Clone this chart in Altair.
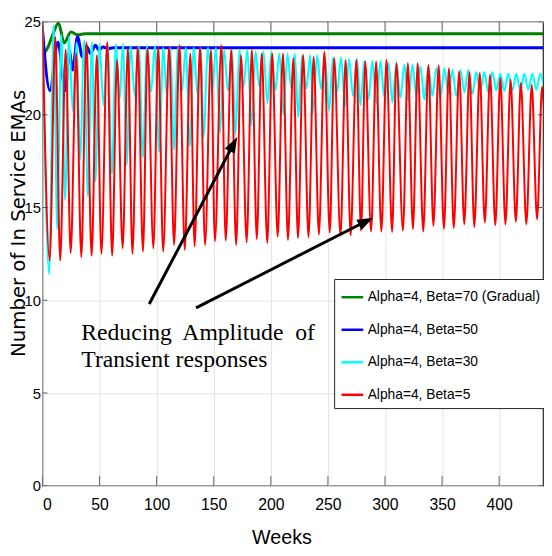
import math
import altair as alt
import pandas as pd

# ---------------- data ----------------
series_names = ["Alpha=4, Beta=70 (Gradual)", "Alpha=4, Beta=50",
                "Alpha=4, Beta=30", "Alpha=4, Beta=5"]
series_colors = ["#008000", "#0000ff", "#00ffff", "#ff0000"]

green_weeks = [0, 4.5, 9, 14, 19, 25, 31, 37, 440]
green_vals = [23.2, 23.6, 24.3, 24.93, 23.87, 24.45, 24.3, 24.36, 24.36]

blue_weeks = [0, 6.5, 13.5, 20, 23.5, 26.4, 30.7, 35, 38.5, 42, 46.4, 49.3, 53, 57, 62, 440]
blue_vals = [24.6, 21.3, 23.9, 21.3, 23.4, 22.4, 24.2, 23.1, 23.7, 23.3, 23.74, 23.48,
             23.65, 23.55, 23.6, 23.6]

cyan_weeks = [0, 5.8, 9.8, 12.9, 16.5, 19.8, 23.2, 26.5, 29.8, 33.0, 36.5, 39.8, 43.2, 46.4,
              49.8, 53.5, 57.0, 60.8, 64.3, 67.5, 70.5, 73.7, 77.2, 80.8, 84.3, 88.0, 91.5,
              95.0, 98.5, 102.3, 105.8, 109.0, 112.0, 115.2, 118.7, 122.0, 125.5, 129.0,
              132.5, 136.0, 138.8, 141.0, 145.0, 148.5, 152.0, 155.5, 159.0, 162.5, 166.0,
              169.0, 172.5, 176.0, 179.5, 183.0, 186.5, 190.0, 193.5, 197.0, 200.5, 204.0,
              207.5, 211.0, 214.5, 218.0, 221.0, 224.0, 227.5, 231.0, 234.5, 237.0, 240.5,
              244.0, 247.5, 251.0, 254.5, 258.0, 261.5, 265.0, 268.5, 272.0, 275.5, 278.5,
              282.0, 285.5, 289.0, 292.5, 296.0, 299.5, 303.0, 306.5, 310.0, 313.5, 317.0,
              320.5, 324.0, 327.5, 331.0, 334.5, 338.0, 341.5, 345.0, 348.5, 352.0, 355.5,
              359.0, 362.5, 366.0, 369.5, 373.0, 376.5, 380.0, 383.5, 387.0, 390.5, 394.0,
              397.5, 401.0, 404.5, 408.0, 411.5, 415.0, 418.5, 422.0, 425.5, 429.0, 432.5,
              436.0, 439.5]
cyan_vals = [25.0, 11.4, 24.8, 13.85, 24.3, 15.4, 24.2, 20.2, 23.9, 17.6, 24.0, 15.6, 23.9,
             16.4, 23.8, 20.5, 23.9, 16.8, 23.8, 20.8, 23.8, 17.3, 23.7, 21.0, 23.7, 17.7,
             23.7, 21.2, 23.7, 18.0, 23.6, 21.0, 23.6, 18.1, 23.6, 21.2, 23.6, 18.3, 23.6,
             21.0, 23.6, 18.8, 23.6, 21.2, 23.6, 19.0, 23.5, 21.3, 23.5, 18.9, 23.5, 21.5,
             23.5, 19.4, 23.4, 21.5, 23.4, 20.6, 23.4, 21.3, 23.3, 20.0, 23.3, 21.4, 23.3,
             19.85, 23.2, 21.4, 23.2, 20.1, 23.2, 21.4, 23.1, 20.2, 23.1, 21.2, 23.1, 20.4,
             23.0, 21.0, 23.0, 20.5, 22.9, 20.8, 22.9, 20.6, 22.9, 20.9, 22.8, 20.65, 22.8,
             20.9, 22.7, 20.7, 22.7, 21.0, 22.6, 20.8, 22.6, 21.0, 22.5, 20.9, 22.5, 21.1,
             22.4, 21.0, 22.4, 21.2, 22.4, 21.1, 22.3, 21.3, 22.3, 21.2, 22.3, 21.3, 22.2,
             21.27, 22.2, 21.3, 22.2, 21.3, 22.2, 21.35, 22.2, 21.35, 22.2, 21.4]

red_weeks = [0, 6.3, 11.2, 15.5, 20.3, 24.7, 29.5, 34.0, 38.5, 43.0, 47.6, 51.6, 56.7, 61.0,
             65.3, 70.2, 74.8, 78.8, 83.4, 88.0, 92.0, 97.1, 101.4, 105.7, 110.9, 115.2,
             120.0, 124.6, 129.5, 133.2, 138.0, 142.4, 147.6, 151.0, 156.7, 160.5, 165.3,
             169.6, 173.9, 178.8, 183.4, 187.7, 192.0, 196.9, 201.2, 206.0, 210.6, 215.0,
             219.7, 223.8, 228.3, 233.0, 237.5, 242.1, 246.9, 251.6, 255.5, 261.0, 265.5,
             269.9, 274.9, 279.0, 282.7, 287.8, 292.2, 296.8, 301.3, 306.2, 310.0, 315.7,
             320.0, 324.5, 328.6, 333.5, 338.0, 342.4, 347.0, 351.6, 356.0, 360.2, 365.0,
             369.4, 374.0, 378.2, 383.0, 387.4, 392.0, 396.6, 401.0, 405.5, 410.0, 414.6,
             419.0, 423.8, 428.5, 433.2, 437.6, 439.5]
red_vals = [25.0, 12.15, 24.2, 12.15, 23.5, 12.55, 23.3, 12.33, 23.9, 12.4, 23.2, 12.5, 23.9,
            12.4, 22.95, 12.8, 23.57, 12.5, 23.65, 12.63, 23.57, 12.81, 23.65, 12.63, 23.65,
            12.98, 23.74, 12.72, 23.3, 12.9, 23.65, 12.98, 23.48, 13.18, 23.74, 13.22, 23.5,
            12.98, 23.2, 13.13, 23.48, 13.30, 23.3, 13.09, 23.3, 13.43, 23.3, 13.25, 23.04,
            13.35, 23.21, 13.4, 23.12, 13.55, 23.39, 13.64, 23.04, 13.5, 22.95, 13.5, 22.95,
            13.75, 22.86, 13.7, 22.86, 13.7, 22.95, 13.68, 22.77, 13.75, 22.77, 13.84, 22.77,
            13.71, 22.68, 14.01, 22.65, 13.85, 22.5, 13.9, 22.33, 14.10, 22.28, 13.95, 22.24,
            14.19, 22.15, 14.05, 21.97, 14.1, 21.88, 14.24, 21.71, 14.1, 21.6, 14.37, 21.5,
            20.0]

x_ticks = [0, 50, 100, 150, 200, 250, 300, 350, 400]
y_ticks = [0, 5, 10, 15, 20, 25]

note_lines = ["Reducing\u00a0 Amplitude\u00a0 of", "Transient responses"]
note_week = [34.0, 34.0]
note_val = [7.87, 6.41]

arrow_start_week = [93.5, 134.5]
arrow_start_val = [9.80, 9.59]
arrow_tip_week = [170.5, 289.5]
arrow_tip_val = [18.79, 14.45]

# ---------------- layout ----------------
X_MAX = 438.4
Y_MAX = 25
W, H = 508, 471
px_x = W / X_MAX
px_y = H / Y_MAX
AX = "#262626"
SANS = "Liberation Sans, Arial, Helvetica, sans-serif"

frames = []
for name, wk, vs in [(series_names[0], green_weeks, green_vals),
                     (series_names[1], blue_weeks, blue_vals),
                     (series_names[2], cyan_weeks, cyan_vals),
                     (series_names[3], red_weeks, red_vals)]:
    frames.append(pd.DataFrame({"series": name, "week": wk, "value": vs}))
df = pd.concat(frames, ignore_index=True)

xs = alt.Scale(domain=[0, X_MAX], nice=False, zero=False)
ys = alt.Scale(domain=[0, Y_MAX], nice=False)

color = alt.Color(
    "series:N",
    scale=alt.Scale(domain=series_names, range=series_colors),
    sort=series_names,
    legend=alt.Legend(
        orient="none", legendX=296, legendY=261, title=None,
        symbolType="stroke", symbolSize=484, symbolStrokeWidth=2.5,
        labelFont=SANS, labelFontSize=14, labelColor="black", labelOffset=3,
        labelLimit=0, padding=6, rowPadding=13, fillColor="white",
        strokeColor=AX, cornerRadius=0,
    ),
)

x_enc = alt.X("week:Q", scale=xs, axis=alt.Axis(
    values=x_ticks, ticks=False, grid=True, gridColor="#e3e3e3", domain=False,
    labelFont=SANS, labelFontSize=16, labelColor="black", labelPadding=11,
    title="Weeks", titleFont=SANS, titleFontSize=20, titleFontWeight="normal",
    titleColor="black", titleX=242.5, titleY=58, titleAlign="center",
    titleBaseline="alphabetic"))
y_enc = alt.Y("value:Q", scale=ys, axis=alt.Axis(
    values=y_ticks, ticks=False, grid=True, gridColor="#e3e3e3", domain=False,
    labelFont=SANS, labelFontSize=15, labelColor="black", labelPadding=2,
    title="Number of In Service EMAs", titleFont="DejaVu Sans", titleFontSize=20,
    titleFontWeight="normal", titleColor="black", titleX=-34.5, titleY=204,
    titleAngle=270, titleAlign="center", titleBaseline="top"))

widths = [3, 3, 2, 2]
line_layers = []
for name, sw in zip(series_names, widths):
    line_layers.append(
        alt.Chart(df).transform_filter(alt.datum.series == name)
        .mark_line(strokeWidth=sw, interpolate="monotone", clip=True)
        .encode(x=x_enc, y=y_enc, color=color, order=alt.Order("week:Q"))
    )

xt = pd.DataFrame({"t": x_ticks})
yt = pd.DataFrame({"t": y_ticks})
tick_layers = [
    alt.Chart(xt).mark_tick(orient="vertical", size=20, thickness=1, color=AX, clip=True)
    .encode(x=alt.X("t:Q", scale=xs), y=alt.datum(0)),
    alt.Chart(xt).mark_tick(orient="vertical", size=20, thickness=1, color=AX, clip=True)
    .encode(x=alt.X("t:Q", scale=xs), y=alt.datum(Y_MAX)),
    alt.Chart(yt).mark_tick(orient="horizontal", size=10, thickness=1, color=AX, clip=True)
    .encode(y=alt.Y("t:Q", scale=ys), x=alt.datum(0)),
    alt.Chart(yt).mark_tick(orient="horizontal", size=10, thickness=1, color=AX, clip=True)
    .encode(y=alt.Y("t:Q", scale=ys), x=alt.datum(X_MAX)),
]

# arrows
arr = pd.DataFrame({"sw": arrow_start_week, "sv": arrow_start_val,
                    "tw": arrow_tip_week, "tv": arrow_tip_val})
dxp = (arr["tw"] - arr["sw"]) * px_x
dyp = (arr["tv"] - arr["sv"]) * px_y
L = (dxp ** 2 + dyp ** 2) ** 0.5
head = 16.0
arr["ew"] = arr["tw"] - (dxp / L) * head * 0.6 / px_x
arr["ev"] = arr["tv"] - (dyp / L) * head * 0.6 / px_y
arr["ang"] = [math.degrees(math.atan2(a, b)) % 360 for a, b in zip(dxp, dyp)]

arrow_lines = alt.Chart(arr).mark_rule(strokeWidth=3, color="black").encode(
    x=alt.X("sw:Q", scale=xs), y=alt.Y("sv:Q", scale=ys), x2="ew:Q", y2="ev:Q")
arrow_heads = alt.Chart(arr).mark_point(
    shape="M0,0L-0.36,1L0.36,1Z", filled=True, size=(2 * head) ** 2, color="black",
    opacity=1, strokeWidth=0).encode(
    x=alt.X("tw:Q", scale=xs), y=alt.Y("tv:Q", scale=ys),
    angle=alt.Angle("ang:Q", scale=None))

notes = pd.DataFrame({"txt": note_lines, "w": note_week, "v": note_val})
note_layer = alt.Chart(notes).mark_text(
    font="Liberation Serif", fontSize=24, align="left", baseline="alphabetic",
    color="black").encode(x=alt.X("w:Q", scale=xs), y=alt.Y("v:Q", scale=ys), text="txt:N")

chart = alt.layer(*line_layers, *tick_layers, arrow_lines, arrow_heads, note_layer).properties(
    width=W, height=H,
    padding={"left": 35, "top": 10, "right": 1, "bottom": 62},
    autosize=alt.AutoSizeParams(type="none"),
    background="white",
).configure_view(stroke=AX, strokeWidth=1.2)

chart.save("out.html", embed_options={"renderer": "svg", "actions": False})
